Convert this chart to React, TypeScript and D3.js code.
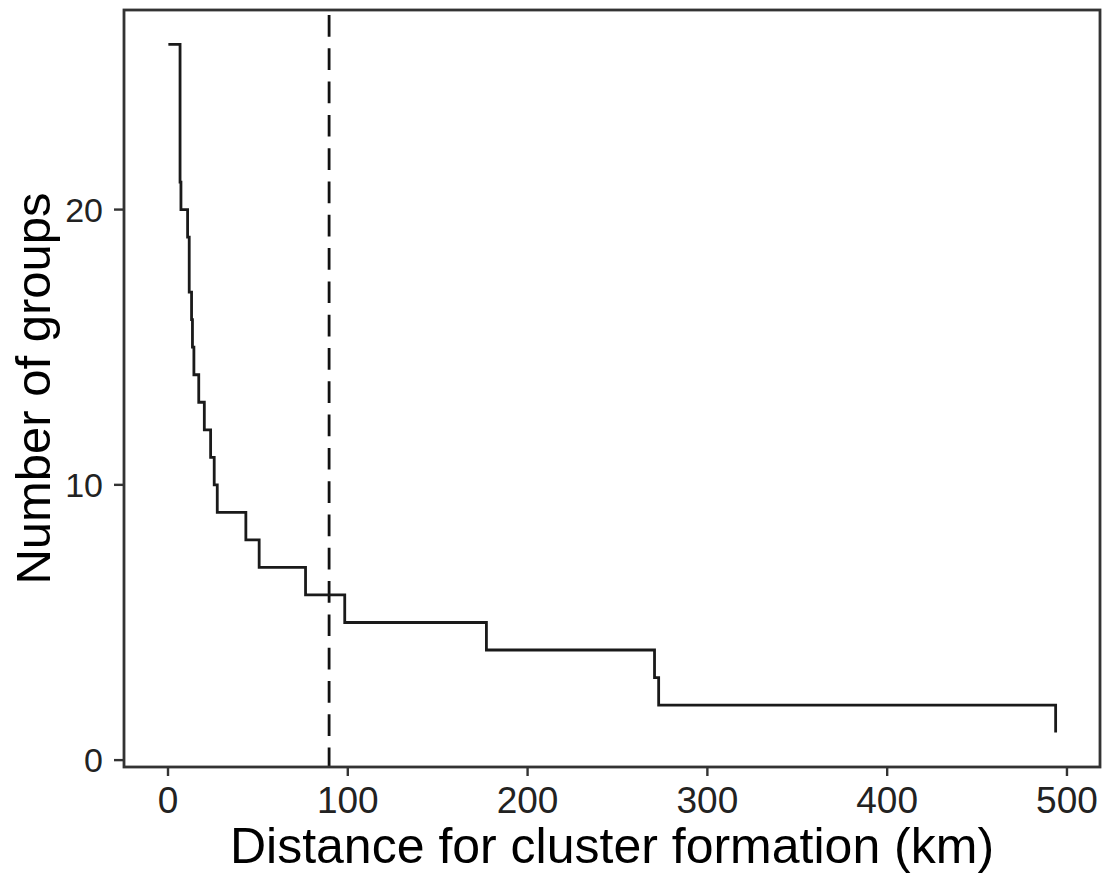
import React from "react";
import * as d3 from "d3";

const distances = [0.2, 6.7, 7.2, 10.9, 11.8, 13.1, 13.6, 14.4, 17.1, 20.2, 23.7, 25.7, 27.4, 43.3, 50.7, 76.5, 98.3, 177.1, 270.6, 272.9, 493.7];
const groups = [26, 21, 20, 19, 17, 16, 15, 14, 13, 12, 11, 10, 9, 8, 7, 6, 5, 4, 3, 2, 1];
const cutoff = 89.6;
const xTicks = [0, 100, 200, 300, 400, 500];
const yTicks = [0, 10, 20];

const W = 1103, H = 874;
const L = 124, R = 1100, T = 10, B = 767;

export default function App() {
  const xMin = d3.min(distances)!, xMax = d3.max(distances)!;
  const xPad = (xMax - xMin) * 0.05;
  const x = d3.scaleLinear().domain([xMin - xPad, xMax + xPad]).range([L, R]);
  const yMin = d3.min(groups)!, yMax = d3.max(groups)!;
  const yPad = (yMax - yMin) * 0.05;
  const y = d3.scaleLinear().domain([yMin - yPad, yMax + yPad]).range([B, T]);
  const pts = distances.map((d, i) => [d, groups[i]] as [number, number]);
  const line = d3.line<[number, number]>().x(d => x(d[0])).y(d => y(d[1])).curve(d3.curveStepAfter);
  const font = "'Liberation Sans', Arial, Helvetica, sans-serif";
  return (
    <svg width={W} height={H} style={{ position: "absolute", left: 0, top: 0, background: "#fff" }} fontFamily={font}>
      <rect x={0} y={0} width={W} height={H} fill="#fff" />
      <line x1={x(cutoff)} x2={x(cutoff)} y1={T} y2={B} stroke="#111" strokeWidth={2.8} strokeDasharray="21.7 11.6" strokeDashoffset={28.3} />
      <path d={line(pts)!} fill="none" stroke="#1a1a1a" strokeWidth={2.8} />
      <rect x={L} y={T} width={R - L} height={B - T} fill="none" stroke="#333" strokeWidth={2.8} />
      {xTicks.map(t => (
        <g key={"x" + t}>
          <line x1={x(t)} x2={x(t)} y1={B} y2={B + 9} stroke="#333" strokeWidth={2.4} />
          <text x={x(t)} y={813} textAnchor="middle" fontSize={37} fill="#222">{t}</text>
        </g>
      ))}
      {yTicks.map(t => (
        <g key={"y" + t}>
          <line x1={L - 10} x2={L} y1={y(t)} y2={y(t)} stroke="#333" strokeWidth={2.4} />
          <text x={103} y={y(t) + 12} textAnchor="end" fontSize={34} fill="#222">{t}</text>
        </g>
      ))}
      <text x={(L + R) / 2} y={863} textAnchor="middle" fontSize={50} fill="#000">Distance for cluster formation (km)</text>
      <text transform={`translate(50, ${(T + B) / 2}) rotate(-90)`} textAnchor="middle" fontSize={49} fill="#000">Number of groups</text>
    </svg>
  );
}
